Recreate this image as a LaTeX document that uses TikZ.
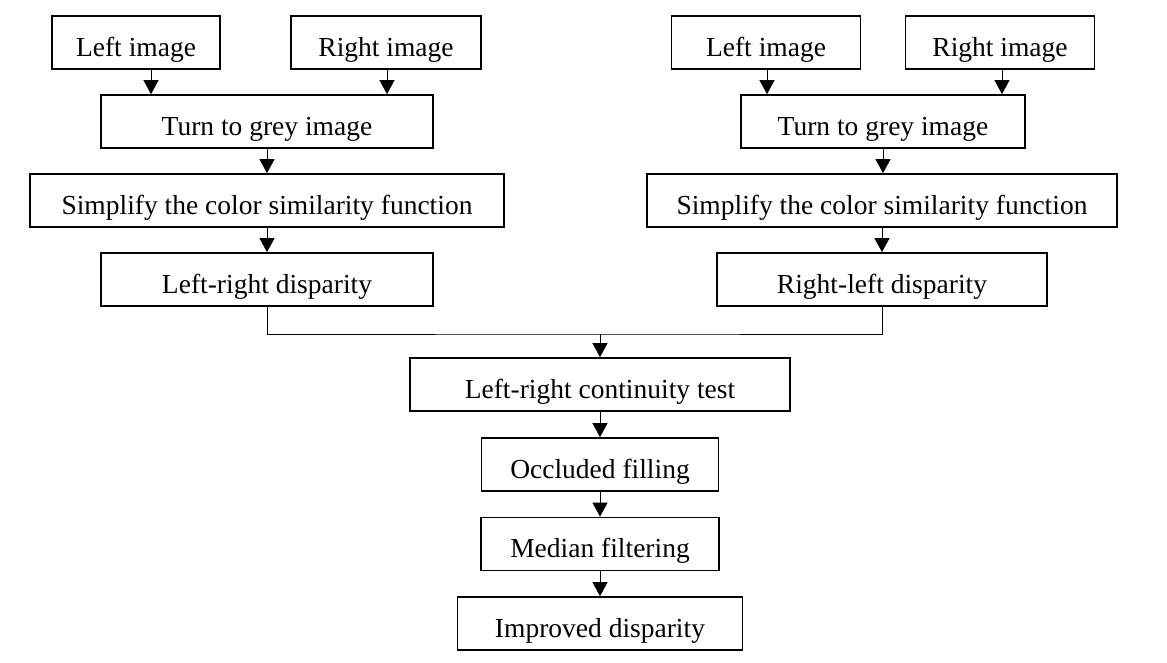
\documentclass[tikz,border=0pt]{standalone}
\usepackage{fontspec}
\setmainfont{Liberation Serif}
\usetikzlibrary{arrows.meta}

\begin{document}
\begin{tikzpicture}[x=1pt, y=-1pt,
    stepbox/.style={draw, line width=1.7pt, rectangle, inner sep=0pt,
                    minimum height=53pt, text height=27pt, text depth=0pt,
                    font=\fontsize{27.5}{32}\selectfont},
    arr/.style={line width=0.9pt, -{Triangle[length=14pt, width=15pt]}},
    link/.style={line width=0.9pt}]
  \useasboundingbox (0,0) rectangle (1167,662);

% level 0
\node[stepbox, minimum width=168pt] (limgA) at (136,42.5) {Left image};
\node[stepbox, minimum width=190pt] (rimgA) at (386,42.5) {Right image};
\node[stepbox, minimum width=189pt] (limgB) at (766,42.5) {Left image};
\node[stepbox, minimum width=189pt] (rimgB) at (1000,42.5) {Right image};

% level 1
\node[stepbox, minimum width=332pt] (greyA) at (267,121.5) {Turn to grey image};
\node[stepbox, minimum width=284pt] (greyB) at (883,121.5) {Turn to grey image};

% level 2
\node[stepbox, minimum width=474pt] (simpA) at (267,200.5)
    {Simplify the color similarity function};
\node[stepbox, minimum width=470pt] (simpB) at (882,200.5)
    {Simplify the color similarity function};

% level 3
\node[stepbox, minimum width=332pt] (lrdisp) at (267,279.5) {Left-right disparity};
\node[stepbox, minimum width=330pt] (rldisp) at (882,279.5) {Right-left disparity};

% level 4 and below
\node[stepbox, minimum width=380pt] (contest) at (600,384.5) {Left-right continuity test};
\node[stepbox, minimum width=237pt] (occfill) at (600,464.5) {Occluded filling};
\node[stepbox, minimum width=238pt] (medfilt) at (600,544) {Median filtering};
\node[stepbox, minimum width=285pt] (impdisp) at (600,623.5) {Improved disparity};

\coordinate (merge) at (600,334);

% edges
\draw[arr] ([xshift=15pt]limgA.south) -- ([xshift=15pt]limgA.south |- greyA.north);
\draw[arr] ([xshift=1pt]rimgA.south) -- ([xshift=1pt]rimgA.south |- greyA.north);
\draw[arr] ([xshift=1pt]limgB.south) -- ([xshift=1pt]limgB.south |- greyB.north);
\draw[arr] ([xshift=2pt]rimgB.south) -- ([xshift=2pt]rimgB.south |- greyB.north);
\draw[arr] (greyA.south) -- (simpA.north);
\draw[arr] (greyB.south) -- (greyB.south |- simpB.north);
\draw[arr] (simpA.south) -- (lrdisp.north);
\draw[arr] (simpB.south) -- (rldisp.north);
\draw[link] (lrdisp.south) |- (merge) -| (rldisp.south);
\draw[arr] (merge) -- (contest.north);
\draw[arr] (contest.south) -- (occfill.north);
\draw[arr] (occfill.south) -- (medfilt.north);
\draw[arr] (medfilt.south) -- (impdisp.north);
\end{tikzpicture}
\end{document}
